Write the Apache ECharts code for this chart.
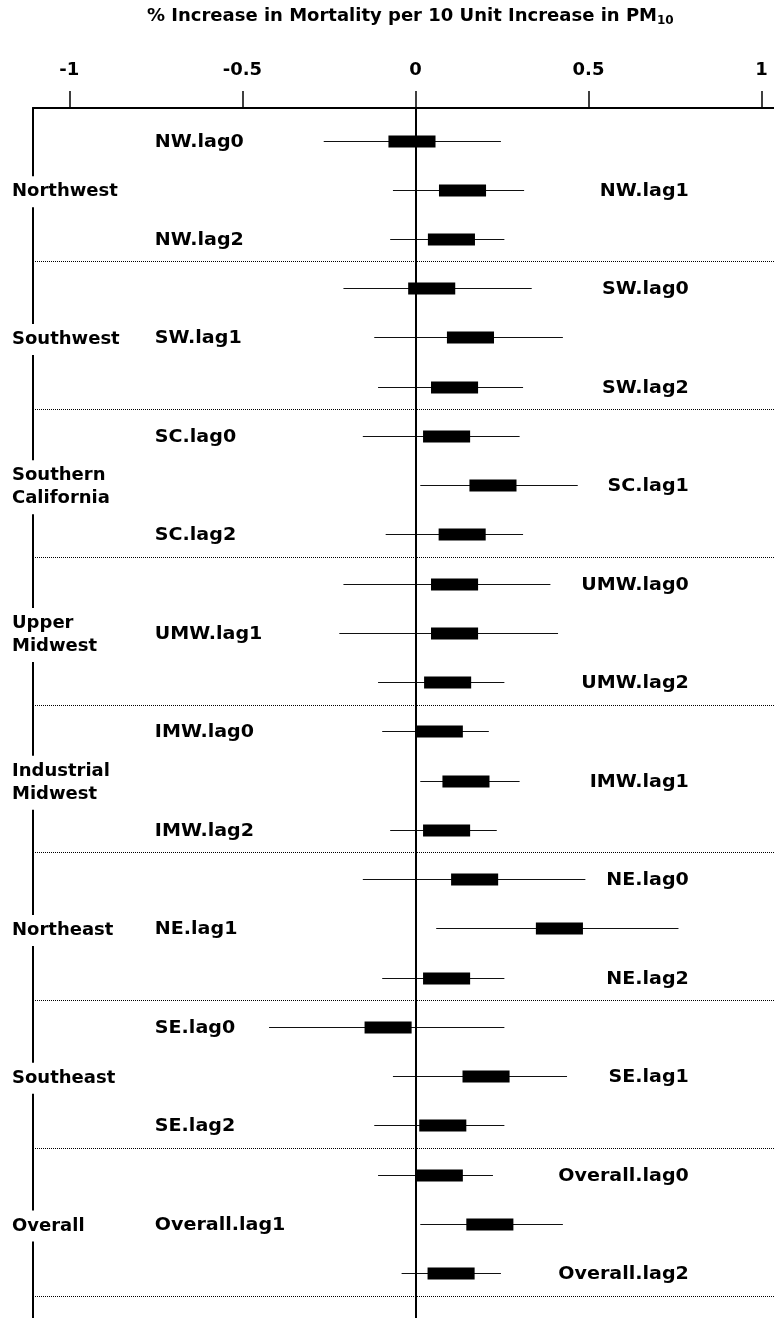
<!DOCTYPE html>
<html>
<head>
<meta charset="utf-8">
<script src="https://cdn.jsdelivr.net/npm/echarts@6/dist/echarts.min.js"></script>
<style>
html, body { margin: 0; padding: 0; background: #fff; }
#chart { width: 774px; height: 1318px; }
</style>
</head>
<body>
<div id="chart"></div>
<script>
// regions, three lag estimates each (rows are listed top to bottom)
const regions = ['Northwest', 'Southwest', 'Southern\nCalifornia', 'Upper\nMidwest',
    'Industrial\nMidwest', 'Northeast', 'Southeast', 'Overall'];
const rowLabels = [
    'NW.lag0', 'NW.lag1', 'NW.lag2',
    'SW.lag0', 'SW.lag1', 'SW.lag2',
    'SC.lag0', 'SC.lag1', 'SC.lag2',
    'UMW.lag0', 'UMW.lag1', 'UMW.lag2',
    'IMW.lag0', 'IMW.lag1', 'IMW.lag2',
    'NE.lag0', 'NE.lag1', 'NE.lag2',
    'SE.lag0', 'SE.lag1', 'SE.lag2',
    'Overall.lag0', 'Overall.lag1', 'Overall.lag2'
];
const labelSide = [
    'L', 'R', 'L',  'R', 'L', 'R',  'L', 'R', 'L',  'R', 'L', 'R',
    'L', 'R', 'L',  'R', 'L', 'R',  'L', 'R', 'L',  'R', 'L', 'R'
];
const estimates = [
    -0.010, 0.136, 0.104,
    0.047, 0.159, 0.113,
    0.090, 0.224, 0.135,
    0.113, 0.113, 0.093,
    0.069, 0.146, 0.090,
    0.171, 0.416, 0.090,
    -0.079, 0.204, 0.079,
    0.069, 0.215, 0.103
];
const lowerCI = [
    -0.265, -0.065, -0.073,
    -0.208, -0.119, -0.108,
    -0.152, 0.014, -0.086,
    -0.208, -0.220, -0.108,
    -0.096, 0.014, -0.073,
    -0.152, 0.060, -0.096,
    -0.423, -0.065, -0.119,
    -0.108, 0.014, -0.040
];
const upperCI = [
    0.247, 0.314, 0.257,
    0.336, 0.426, 0.311,
    0.301, 0.469, 0.311,
    0.390, 0.412, 0.257,
    0.212, 0.301, 0.235,
    0.491, 0.760, 0.257,
    0.257, 0.438, 0.257,
    0.224, 0.426, 0.247
];
const tickValues = [-1, -0.5, 0, 0.5, 1];

const FONT = '"DejaVu Sans", "Liberation Sans", Arial, sans-serif';
const BOX_HALF = 0.068;      // half width of the black box, in axis units
const LEFT_LABEL_X = -0.753; // where the left-hand row names start
const RIGHT_LABEL_X = 0.790; // where the right-hand row names end

const chart = echarts.init(document.getElementById('chart'));

function renderRow(params, api) {
    const row = api.value(0);
    const lo = api.coord([api.value(1), row]);
    const hi = api.coord([api.value(3), row]);
    const est = api.value(2);
    const b0 = api.coord([est - BOX_HALF, row]);
    const b1 = api.coord([est + BOX_HALF, row]);
    const y = Math.round(lo[1]) + 0.5;
    const side = labelSide[params.dataIndex];
    const lx = api.coord([side === 'L' ? LEFT_LABEL_X : RIGHT_LABEL_X, row])[0];
    return {
        type: 'group',
        children: [
            {
                type: 'line',
                shape: { x1: lo[0], y1: y, x2: hi[0], y2: y },
                style: { stroke: '#111', lineWidth: 1 }
            },
            {
                type: 'rect',
                shape: { x: b0[0], y: y - 6, width: b1[0] - b0[0], height: 12 },
                style: { fill: '#000' }
            },
            {
                type: 'text',
                x: lx,
                y: y + 1,
                scaleX: 1.06,
                style: {
                    text: rowLabels[params.dataIndex],
                    font: 'bold 18px ' + FONT,
                    fill: '#000',
                    align: side === 'L' ? 'left' : 'right',
                    verticalAlign: 'middle'
                }
            }
        ]
    };
}

function renderRegion(params, api) {
    const p = api.coord([0, api.value(0)]);
    return {
        type: 'text',
        x: 12,
        y: p[1] + 2,
        z2: 10,
        style: {
            text: regions[params.dataIndex],
            font: 'bold 18px ' + FONT,
            lineHeight: 23,
            fill: '#000',
            align: 'left',
            verticalAlign: 'middle',
            backgroundColor: '#fff',
            padding: [4, 0, 4, 0]
        }
    };
}

const rowData = rowLabels.map((name, i) => [i, lowerCI[i], estimates[i], upperCI[i]]);
const regionData = regions.map((name, g) => [g * 3 + 1]);
const separators = regions.map((name, g) => ({ yAxis: g * 3 + 2.46 }));

chart.setOption({
    animation: false,
    backgroundColor: '#fff',
    title: {
        text: '% Increase in Mortality per 10 Unit Increase in PM{sub|10}',
        left: 147,
        top: 6,
        padding: 0,
        textStyle: {
            fontFamily: FONT,
            fontWeight: 'bold',
            fontSize: 18,
            color: '#000',
            rich: {
                sub: { fontFamily: FONT, fontWeight: 'bold', fontSize: 12, color: '#000', padding: [9, 0, 0, 0] }
            }
        }
    },
    grid: { left: 33, right: 0, top: 108, bottom: 0, outerBoundsMode: 'none' },
    xAxis: {
        type: 'value',
        position: 'top',
        min: -1.105,
        max: 1.036,
        axisLine: { show: true, onZero: false, lineStyle: { color: '#000', width: 2 } },
        axisTick: { show: true, customValues: tickValues, length: 17, lineStyle: { color: '#000', width: 1.5 } },
        axisLabel: {
            customValues: tickValues,
            margin: 29,
            fontFamily: FONT,
            fontWeight: 'bold',
            fontSize: 18,
            color: '#000',
            formatter: (v) => String(v)
        },
        splitLine: { show: false }
    },
    yAxis: {
        type: 'value',
        inverse: true,
        min: -0.66,
        max: 23.91,
        axisLine: { show: true, onZero: false, lineStyle: { color: '#000', width: 2 } },
        axisTick: { show: false },
        axisLabel: { show: false },
        splitLine: { show: false }
    },
    series: [
        {
            type: 'custom',
            renderItem: renderRow,
            encode: { x: [1, 2, 3], y: 0 },
            data: rowData,
            silent: true,
            z: 3,
            markLine: {
                silent: true,
                symbol: 'none',
                label: { show: false },
                data: [
                    { xAxis: 0, lineStyle: { color: '#000', width: 2, type: 'solid' } }
                ].concat(separators.map((s) => Object.assign({}, s, {
                    lineStyle: { color: '#000', width: 1, type: [1, 1] }
                })))
            }
        },
        {
            type: 'custom',
            renderItem: renderRegion,
            encode: { y: 0 },
            data: regionData,
            silent: true,
            z: 5
        }
    ]
});
</script>
</body>
</html>
